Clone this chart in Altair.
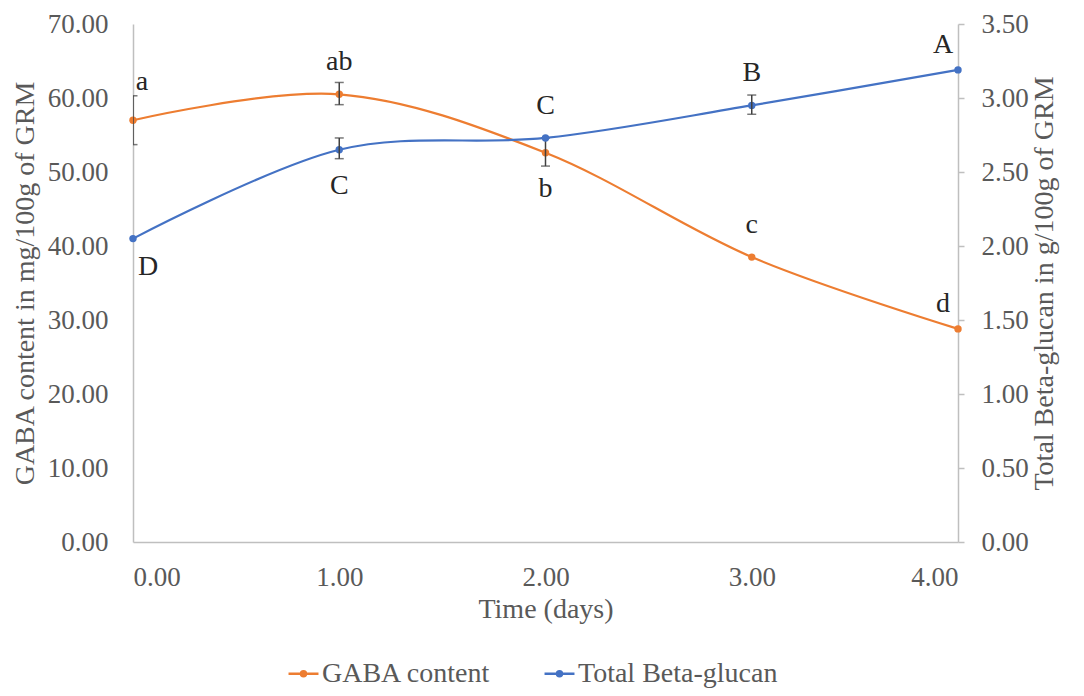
import altair as alt
import pandas as pd

# ---------------- data ----------------
days = [0, 1, 2, 3, 4]

gaba = [57.0, 60.5, 52.6, 38.5, 28.8]
gaba_lo = [53.7, 59.1, 50.8, None, None]
gaba_hi = [60.3, 62.1, 54.6, None, None]
gaba_letters = ["a", "ab", "b", "c", "d"]
gaba_pos = ["above_right", "above", "below", "above", "above_left"]

beta = [2.05, 2.65, 2.73, 2.95, 3.19]
beta_lo = [None, 2.59, None, 2.89, None]
beta_hi = [None, 2.73, None, 3.02, None]
beta_letters = ["D", "C", "C", "B", "A"]
beta_pos = ["below_right", "below", "above", "above", "above_left"]

series_names = ["GABA content", "Total Beta-glucan"]
series_colors = ["#ED7D31", "#4472C4"]

left_ticks = [0, 10, 20, 30, 40, 50, 60, 70]
right_ticks = [0, 0.5, 1.0, 1.5, 2.0, 2.5, 3.0, 3.5]
x_ticks = [0, 1, 2, 3, 4]

df_g = pd.DataFrame({"day": days, "value": gaba, "lo": gaba_lo, "hi": gaba_hi,
                     "letter": gaba_letters, "pos": gaba_pos, "series": series_names[0]})
df_b = pd.DataFrame({"day": days, "value": beta, "lo": beta_lo, "hi": beta_hi,
                     "letter": beta_letters, "pos": beta_pos, "series": series_names[1]})

# ---------------- style ----------------
FONT = "Liberation Serif"
TXT = "#595959"
AX = "#bfbfbf"
FS = 28
LFS = 27
offsets = {
    "above": (0, -32),
    "below": (0, 36),
    "above_right": (9, -38),
    "above_left": (-15, -25),
    "below_right": (15, 28),
}

x_scale = alt.Scale(domain=[0, 4], nice=False, zero=False)
x_axis = alt.Axis(values=x_ticks, format=".2f", title="Time (days)", ticks=False,
                  grid=False, domainColor=AX, domainWidth=1.5,
                  labelPadding=22, titlePadding=5)

SYM = ("M-1.07,0H-0.18M0.18,0H1.07"
       "M-0.18,0A0.18,0.18 0 1,0 0.18,0A0.18,0.18 0 1,0 -0.18,0Z")

color_enc = alt.Color("series:N",
                      scale=alt.Scale(domain=series_names, range=series_colors),
                      legend=alt.Legend(
                          orient="none", legendX=155, legendY=634, direction="horizontal",
                          title=None, labelFont=FONT, labelFontSize=FS, labelColor=TXT,
                          labelLimit=400, symbolType=SYM, symbolSize=784,
                          symbolStrokeWidth=2.4, columnPadding=48, labelOffset=3))


def build(df, domain, yaxis):
    yscale = alt.Scale(domain=domain, nice=False)
    line = alt.Chart(df).mark_line(
        interpolate="cardinal", strokeWidth=2.2,
        point=alt.OverlayMarkDef(size=55, filled=True, opacity=1)
    ).encode(
        x=alt.X("day:Q", scale=x_scale, axis=x_axis),
        y=alt.Y("value:Q", scale=yscale, axis=yaxis),
        color=color_enc,
    )
    err = alt.Chart(df).transform_filter("isValid(datum.lo)").mark_errorbar(
        ticks={"size": 9, "thickness": 1.5, "color": "#404040"},
        thickness=1.5, color="#404040", clip=True
    ).encode(
        x=alt.X("day:Q", scale=x_scale, axis=x_axis),
        y=alt.Y("lo:Q", scale=yscale, axis=yaxis),
        y2="hi:Q",
    )
    texts = []
    for pos, (dx, dy) in offsets.items():
        texts.append(
            alt.Chart(df).transform_filter(alt.datum.pos == pos).mark_text(
                dx=dx, dy=dy, font=FONT, fontSize=FS, color="#262626", baseline="middle"
            ).encode(
                x=alt.X("day:Q", scale=x_scale, axis=x_axis),
                y=alt.Y("value:Q", scale=yscale, axis=yaxis),
                text="letter:N",
            )
        )
    return alt.layer(line, err, *texts)


left_axis = alt.Axis(values=left_ticks, format=".2f", title="GABA content in mg/100g of  GRM",
                     orient="left", ticks=False, grid=False, domainColor=AX, domainWidth=1.5,
                     labelPadding=25, titlePadding=8)
right_axis = alt.Axis(values=right_ticks, format=".2f", title="Total Beta-glucan in g/100g of  GRM",
                      orient="right", ticks=True, tickSize=6, tickColor=AX, tickWidth=1.5,
                      grid=False, domainColor=AX, domainWidth=1.5,
                      labelPadding=17, titlePadding=2, titleAngle=-90, titleBaseline="top")

left = build(df_g, [0, 70], left_axis)
right = build(df_b, [0, 3.5], right_axis)

chart = alt.layer(left, right).resolve_scale(y="independent").properties(
    width=825, height=518,
    autosize=alt.AutoSizeParams(type="none"),
    padding={"left": 125, "top": 16, "right": 110, "bottom": 146},
).configure_view(stroke=None).configure_axis(
    labelFont=FONT, labelFontSize=LFS, labelColor=TXT,
    titleFont=FONT, titleFontSize=FS, titleColor=TXT, titleFontWeight="normal",
)

chart.save("out.html", embed_options={"renderer": "svg", "actions": False})
